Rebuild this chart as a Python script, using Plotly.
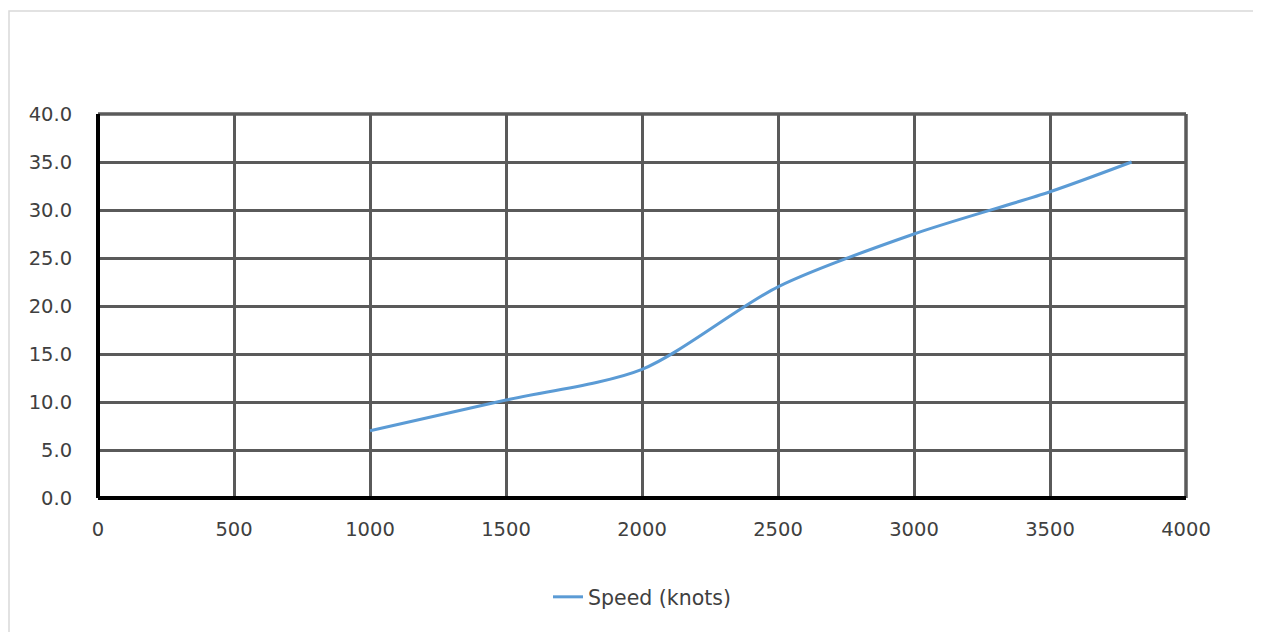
import plotly.graph_objects as go

rpm = [1000, 1500, 2000, 2500, 3000, 3500, 3800]
speed = [7.0, 10.2, 13.4, 22.0, 27.5, 31.9, 35.0]
series_name = "Speed (knots)"

# page body has an 8px margin, so the figure is slightly smaller than the window
W, H = 1253, 624
ml, mt = 90, 106
pw, ph = 1088, 384
mr, mb = W - ml - pw, H - mt - ph

fig = go.Figure()
fig.add_trace(go.Scatter(
    x=rpm, y=speed, mode="lines", name=series_name,
    line=dict(color="#5B9BD5", width=3, shape="spline", smoothing=0.8),
))

tick_font = dict(family="'DejaVu Sans', sans-serif", size=19.5, color="#404040")
grid = "#5a5a5a"

fig.update_layout(
    width=W, height=H,
    margin=dict(l=ml, r=mr, t=mt, b=mb),
    paper_bgcolor="white", plot_bgcolor="white",
    font=tick_font,
    showlegend=True,
    legend=dict(orientation="h", x=0.5, xanchor="center",
                y=-99 / ph, yanchor="middle",
                font=dict(family="'DejaVu Sans', sans-serif", size=20.5, color="#404040")),
    xaxis=dict(range=[0, 4000], dtick=500, tick0=0,
               showgrid=True, gridcolor=grid, gridwidth=3,
               showline=False,
               zeroline=True, zerolinecolor="black", zerolinewidth=3.5,
               ticks="outside", ticklen=14, tickcolor="rgba(0,0,0,0)",
               tickfont=tick_font),
    yaxis=dict(range=[0, 40], dtick=5, tick0=0, tickformat=".1f",
               showgrid=True, gridcolor=grid, gridwidth=3,
               showline=False,
               zeroline=True, zerolinecolor="black", zerolinewidth=3.5,
               ticks="outside", ticklen=21, tickcolor="rgba(0,0,0,0)",
               tickfont=tick_font),
)

# top and right edges of the plot frame (gray like the grid)
fig.add_shape(type="line", xref="paper", yref="paper", x0=0, x1=1, y0=1, y1=1,
              line=dict(color=grid, width=3.5), layer="below")
fig.add_shape(type="line", xref="paper", yref="paper", x0=1, x1=1, y0=0, y1=1,
              line=dict(color=grid, width=3.5), layer="below")

# outer chart-area frame (light gray), top and left edges visible
fig.add_shape(type="rect", xref="paper", yref="paper",
              x0=(1 - ml) / pw, x1=(W + 20 - ml) / pw,
              y0=(mt + ph - (H + 20)) / ph, y1=(mt + ph - 3) / ph,
              line=dict(color="#d9d9d9", width=1.5), layer="below")

fig.write_html("out.html")
